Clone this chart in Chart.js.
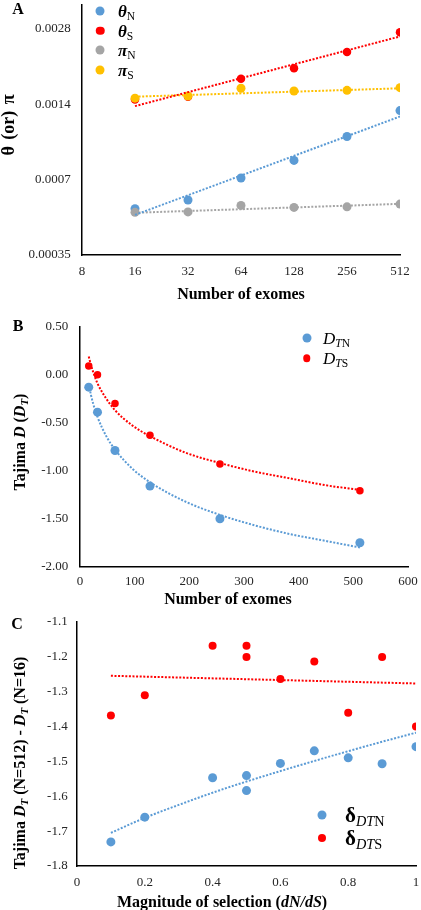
<!DOCTYPE html>
<html>
<head>
<meta charset="utf-8">
<script src="https://cdn.jsdelivr.net/npm/chart.js@4.4.1/dist/chart.umd.min.js"></script>
<style>
html, body { margin: 0; padding: 0; background: #fff; }
#wrap { position: relative; width: 421px; height: 910px; overflow: hidden;
        font-family: "Liberation Serif", "Times New Roman", serif; color: #000; }
canvas { position: absolute; left: 0; }
.t { position: absolute; white-space: nowrap; font-weight: bold; font-size: 16px; line-height: 1; }
.c { transform: translate(-50%, -50%); }
.r { transform: translate(-50%, -50%) rotate(-90deg); }
.lg { position: absolute; white-space: nowrap; line-height: 1; transform: translateY(-50%); }
.dot { position: absolute; border-radius: 50%; transform: translate(-50%, -50%); }
sub { font-size: 0.68em; vertical-align: -0.3em; line-height: 0; }
</style>
</head>
<body>
<div id="wrap">
  <canvas id="cA" style="top:0px"></canvas>
  <canvas id="cB" style="top:300px"></canvas>
  <canvas id="cC" style="top:610px"></canvas>

  <div class="t c" style="left:18px;top:8.5px">A</div>
  <div class="t c" style="left:18px;top:326px">B</div>
  <div class="t c" style="left:17px;top:624px">C</div>

  <div class="t r" style="left:8px;top:125px;font-size:18px;word-spacing:2px">θ (or) π</div>
  <div class="t c" style="left:241px;top:294px">Number of exomes</div>

  <div class="t r" style="left:20px;top:442px">Tajima <i>D</i> (<i>D<sub>T</sub></i>)</div>
  <div class="t c" style="left:228px;top:599px">Number of exomes</div>

  <div class="t r" style="left:20px;top:763px">Tajima <i>D<sub>T</sub></i> (N=512) - <i>D<sub>T</sub></i> (N=16)</div>
  <div class="t c" style="left:222px;top:902px">Magnitude of selection (<i>dN/dS</i>)</div>

  <div id="legends"></div>
</div>

<script>
// ---------------- Panel A data ----------------
const exomesA = [16, 32, 64, 128, 256, 512];
const thetaN = [0.000536, 0.00058, 0.00071, 0.000835, 0.00104, 0.00132];
const thetaS = [0.00146, 0.00150, 0.00177, 0.00195, 0.00226, 0.00271];
const piN = [0.000518, 0.00052, 0.000552, 0.000542, 0.000545, 0.000559];
const piS = [0.00148, 0.00151, 0.00162, 0.00158, 0.00159, 0.00163];
const trendXA = [16, 512];
const thetaNTrend = [0.000506, 0.00125];
const thetaSTrend = [0.001375, 0.00261];
const piNTrend = [0.000516, 0.00056];
const piSTrend = [0.0015, 0.00162];
const yTicksA = [0.00035, 0.0007, 0.0014, 0.0028];
const xTicksA = [8, 16, 32, 64, 128, 256, 512];

// ---------------- Panel B data ----------------
const exomesB = [16, 32, 64, 128, 256, 512];
const DTN = [-0.13, -0.39, -0.79, -1.16, -1.50, -1.75];
const DTS = [0.09, 0.00, -0.30, -0.63, -0.93, -1.21];
const trendXB = [16, 20, 24, 32, 48, 64, 96, 128, 192, 256, 320, 384, 448, 512];
const DTNTrend = [-0.10, -0.21, -0.30, -0.44, -0.64, -0.78, -0.98, -1.12, -1.32, -1.46, -1.57, -1.66, -1.73, -1.80];
const DTSTrend = [0.19, 0.10, 0.03, -0.09, -0.25, -0.37, -0.53, -0.64, -0.81, -0.92, -1.01, -1.08, -1.15, -1.20];

// ---------------- Panel C data ----------------
const selection = [0.1, 0.2, 0.4, 0.5, 0.5, 0.6, 0.7, 0.8, 0.9, 1.0];
const deltaDTN = [-1.731, -1.660, -1.547, -1.541, -1.584, -1.506, -1.470, -1.490, -1.507, -1.458];
const deltaDTS = [-1.369, -1.311, -1.169, -1.169, -1.201, -1.264, -1.214, -1.361, -1.201, -1.400];
const trendXC1 = [0.1, 0.2, 0.3, 0.4, 0.5, 0.6, 0.7, 0.8, 0.9, 1.0];
const deltaDTNTrend = [-1.705, -1.662, -1.625, -1.590, -1.558, -1.528, -1.499, -1.471, -1.444, -1.418];
const trendXC2 = [0.1, 1.0];
const deltaDTSTrend = [-1.255, -1.277];

// ---------------- styles ----------------
const BLUE = '#5B9BD5', RED = '#FF0000', GREY = '#A5A5A5', YELLOW = '#FFC000';
const FONT = '"Liberation Serif", "Times New Roman", serif';
const TICK_COLOR = '#262626';

const pts = (xs, ys) => xs.map((x, i) => ({ x: x, y: ys[i] }));

function pointDS(data, color, r) {
  return { data, showLine: false, pointRadius: r, pointBorderWidth: 0,
           pointBackgroundColor: color, backgroundColor: color, borderColor: color };
}
function trendDS(data, color, smooth) {
  return { data, showLine: true, borderColor: color, borderWidth: 2, borderDash: [2, 1.6],
           pointRadius: 0, fill: false, tension: 0,
           cubicInterpolationMode: smooth ? 'monotone' : 'default' };
}
function axis(extra, pad, fmt, step) {
  return Object.assign({
    grid: { display: false, drawTicks: false },
    border: { display: true, color: '#000', width: 1.5 },
    ticks: { font: { family: FONT, size: 13 }, color: TICK_COLOR, padding: pad,
             callback: fmt, autoSkip: false, maxRotation: 0, minRotation: 0, stepSize: step }
  }, extra);
}
function build(id, W, H, area, datasets, xScale, yScale) {
  const c = document.getElementById(id);
  c.width = W; c.height = H; c.style.width = W + 'px'; c.style.height = H + 'px';
  xScale.afterFit = s => { s.height = H - area.bottom; s.paddingLeft = 0; s.paddingRight = 0; };
  yScale.afterFit = s => { s.width = area.left; s.paddingTop = 0; s.paddingBottom = 0; };
  return new Chart(c, {
    type: 'scatter',
    data: { datasets },
    options: {
      responsive: false, animation: false, events: [], devicePixelRatio: 1,
      layout: { padding: { left: 0, top: area.top, right: W - area.right, bottom: 0 } },
      plugins: { legend: { display: false }, tooltip: { enabled: false } },
      scales: { x: xScale, y: yScale }
    }
  });
}

// ---------------- Panel A ----------------
build('cA', 421, 285, { left: 82, right: 400, top: 0, bottom: 255 }, [
  trendDS(pts(trendXA, thetaNTrend), BLUE),
  trendDS(pts(trendXA, thetaSTrend), RED),
  trendDS(pts(trendXA, piNTrend), GREY),
  trendDS(pts(trendXA, piSTrend), YELLOW),
  pointDS(pts(exomesA, piS), YELLOW, 4.5),
  pointDS(pts(exomesA, piN), GREY, 4.5),
  pointDS(pts(exomesA, thetaS), RED, 4.25),
  pointDS(pts(exomesA, thetaN), BLUE, 4.5)
],
axis({ type: 'logarithmic', min: 8, max: 512,
       afterBuildTicks: s => { s.ticks = xTicksA.map(v => ({ value: v })); } },
     9.2, v => String(v)),
axis({ type: 'logarithmic', min: 0.00035, max: 0.0035,
       afterBuildTicks: s => { s.ticks = yTicksA.map(v => ({ value: v })); } },
     11.3, v => String(v))
);

// ---------------- Panel B ----------------
build('cB', 421, 292, { left: 80, right: 408, top: 26.7, bottom: 266.7 }, [
  trendDS(pts(trendXB, DTNTrend), BLUE, true),
  trendDS(pts(trendXB, DTSTrend), RED, true),
  pointDS(pts(exomesB, DTS), RED, 3.75),
  pointDS(pts(exomesB, DTN), BLUE, 4.5)
],
axis({ type: 'linear', min: 0, max: 600 }, 7.5, v => String(v), 100),
axis({ type: 'linear', min: -2, max: 0.5 }, 11.7, v => Number(v).toFixed(2), 0.5)
);

// ---------------- Panel C ----------------
build('cC', 421, 290, { left: 77, right: 416, top: 11.7, bottom: 256 }, [
  trendDS(pts(trendXC1, deltaDTNTrend), BLUE, true),
  trendDS(pts(trendXC2, deltaDTSTrend), RED),
  pointDS(pts(selection, deltaDTS), RED, 4),
  pointDS(pts(selection, deltaDTN), BLUE, 4.5)
],
axis({ type: 'linear', min: 0, max: 1 }, 9.2, v => String(+Number(v).toFixed(1)), 0.2),
axis({ type: 'linear', min: -1.8, max: -1.1 }, 9.3, v => Number(v).toFixed(1), 0.1)
);

// ---------------- Legends (HTML, real text) ----------------
const legendItems = [
  { x: 100, y: 11.3, r: 4.5, color: BLUE, tx: 118, html: '<b><i>θ</i></b><sub>N</sub>', size: 17 },
  { x: 100, y: 30.7, r: 4.25, color: RED, tx: 118, html: '<b><i>θ</i></b><sub>S</sub>', size: 17 },
  { x: 100, y: 50, r: 4.5, color: GREY, tx: 118, html: '<b><i>π</i></b><sub>N</sub>', size: 17 },
  { x: 100, y: 70, r: 4.5, color: YELLOW, tx: 118, html: '<b><i>π</i></b><sub>S</sub>', size: 17 },
  { x: 306.7, y: 338.3, r: 4.5, color: BLUE, tx: 323, html: '<i>D</i><sub><i>T</i>N</sub>', size: 17 },
  { x: 306.7, y: 358.3, r: 3.75, color: RED, tx: 323, html: '<i>D</i><sub><i>T</i>S</sub>', size: 17 },
  { x: 321.7, y: 815, r: 4.5, color: BLUE, tx: 345, html: '<b>δ</b><sub><i>DT</i>N</sub>', size: 21 },
  { x: 321.7, y: 838.3, r: 4, color: RED, tx: 345, html: '<b>δ</b><sub><i>DT</i>S</sub>', size: 21 }
];
const lgRoot = document.getElementById('legends');
legendItems.forEach(it => {
  const d = document.createElement('div');
  d.className = 'dot';
  d.style.left = it.x + 'px'; d.style.top = it.y + 'px';
  d.style.width = (2 * it.r) + 'px'; d.style.height = (2 * it.r) + 'px';
  d.style.background = it.color;
  lgRoot.appendChild(d);
  const t = document.createElement('div');
  t.className = 'lg';
  t.style.left = it.tx + 'px'; t.style.top = it.y + 'px';
  t.style.fontSize = it.size + 'px';
  t.innerHTML = it.html;
  lgRoot.appendChild(t);
});
</script>
</body>
</html>
